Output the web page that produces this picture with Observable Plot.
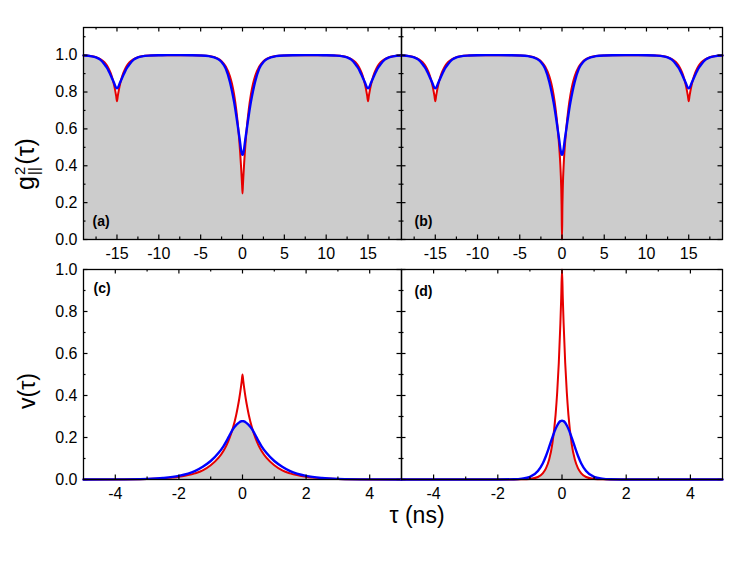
<!DOCTYPE html>
<html><head><meta charset="utf-8">
<script src="https://cdn.jsdelivr.net/npm/d3@7"></script>
<script src="https://cdn.jsdelivr.net/npm/@observablehq/plot@0.6"></script>
<style>
body{margin:0;background:#fff;font-family:"Liberation Sans",Arial,sans-serif;}
#wrap{position:relative;width:747px;height:561px;overflow:hidden;}
.lab{position:absolute;white-space:nowrap;font-size:23px;color:#000;line-height:1;}
.rot{transform:translate(-50%,-50%) rotate(-90deg);}
.flat{transform:translate(-50%,-50%);}
.ss{display:inline-block;vertical-align:middle;font-size:15px;line-height:0.95;text-align:left;margin:0 2px 0 1px;}
.ss span{display:block;}
</style>
</head><body><div id="wrap"></div>
<script>
// ---- top panels: g2(tau), tau in ns ----
const tauTop = [-19,-18,-17.5,-17,-16.5,-16.25,-16,-15.75,-15.5,-15.3,-15.2,-15.1,-15,-14.9,-14.8,-14.7,-14.5,-14.25,-14,-13.75,-13.5,-13,-12.5,-12,-11,-10,-9,-7.5,-6,-5,-4,-3,-2.5,-2,-1.5,-1.25,-1,-0.75,-0.5,-0.3,-0.2,-0.1,-0.05,0,0.05,0.1,0.2,0.3,0.5,0.75,1,1.25,1.5,2,2.5,3,4,5,6,7.5,9,10,11,12,12.5,13,13.5,13.75,14,14.25,14.5,14.7,14.8,14.9,15,15.1,15.2,15.3,15.5,15.75,16,16.25,16.5,17,17.5,18,19];
const gRedA = [0.998,0.994,0.989,0.979,0.962,0.948,0.928,0.902,0.866,0.828,0.805,0.779,0.75,0.779,0.805,0.828,0.866,0.902,0.928,0.948,0.962,0.979,0.989,0.994,0.998,0.9995,0.9999,1.0,0.9996,0.9986,0.995,0.982,0.967,0.938,0.885,0.843,0.785,0.706,0.599,0.485,0.416,0.338,0.295,0.25,
  0.295,0.338,0.416,0.485,0.599,0.706,0.785,0.843,0.885,0.938,0.967,0.982,0.995,0.9986,0.9996,1.0,0.9999,0.9995,0.998,0.994,0.989,0.979,0.962,0.948,0.928,0.902,0.866,0.828,0.805,0.779,0.75,0.779,0.805,0.828,0.866,0.902,0.928,0.948,0.962,0.979,0.989,0.994,0.998];
const gBlueA = [0.998,0.9935,0.9875,0.976,0.951,0.9345,0.915,0.891,0.865,0.844,0.831,0.823,0.82,0.823,0.831,0.844,0.865,0.891,0.915,0.9345,0.951,0.976,0.9875,0.9935,0.998,0.9995,0.9999,1.0,0.9996,0.9985,0.9944,0.9805,0.9625,0.927,0.854,0.8035,0.745,0.674,0.595,0.531,0.494,0.469,0.462,0.46,
  0.462,0.469,0.494,0.531,0.595,0.674,0.745,0.8035,0.854,0.927,0.9625,0.9805,0.9944,0.9985,0.9996,1.0,0.9999,0.9995,0.998,0.9935,0.9875,0.976,0.951,0.9345,0.915,0.891,0.865,0.844,0.831,0.823,0.82,0.823,0.831,0.844,0.865,0.891,0.915,0.9345,0.951,0.976,0.9875,0.9935,0.998];
const gRedB = [0.998,0.994,0.989,0.979,0.962,0.948,0.928,0.902,0.866,0.828,0.805,0.779,0.75,0.779,0.805,0.828,0.866,0.902,0.928,0.948,0.962,0.979,0.989,0.994,0.998,0.9995,0.9999,1.0,0.9996,0.9986,0.995,0.982,0.967,0.938,0.885,0.843,0.785,0.706,0.599,0.483,0.407,0.291,0.187,0.0,
  0.187,0.291,0.407,0.483,0.599,0.706,0.785,0.843,0.885,0.938,0.967,0.982,0.995,0.9986,0.9996,1.0,0.9999,0.9995,0.998,0.994,0.989,0.979,0.962,0.948,0.928,0.902,0.866,0.828,0.805,0.779,0.75,0.779,0.805,0.828,0.866,0.902,0.928,0.948,0.962,0.979,0.989,0.994,0.998];
const gBlueB = [0.998,0.9935,0.9875,0.976,0.951,0.9345,0.915,0.891,0.865,0.844,0.831,0.823,0.82,0.823,0.831,0.844,0.865,0.891,0.915,0.9345,0.951,0.976,0.9875,0.9935,0.998,0.9995,0.9999,1.0,0.9996,0.9985,0.9944,0.9805,0.9625,0.927,0.854,0.8035,0.745,0.674,0.595,0.531,0.494,0.469,0.461,0.459,
  0.461,0.469,0.494,0.531,0.595,0.674,0.745,0.8035,0.854,0.927,0.9625,0.9805,0.9944,0.9985,0.9996,1.0,0.9999,0.9995,0.998,0.9935,0.9875,0.976,0.951,0.9345,0.915,0.891,0.865,0.844,0.831,0.823,0.82,0.823,0.831,0.844,0.865,0.891,0.915,0.9345,0.951,0.976,0.9875,0.9935,0.998];

// ---- bottom panels: v(tau) ----
const tauBot = [-5,-4,-3,-2.5,-2,-1.5,-1.25,-1,-0.75,-0.6,-0.5,-0.4,-0.3,-0.2,-0.15,-0.1,-0.05,-0.025,0,0.025,0.05,0.1,0.15,0.2,0.3,0.4,0.5,0.6,0.75,1,1.25,1.5,2,2.5,3,4,5];
const vRedC = [0.0001,0.0004,0.0024,0.0054,0.0125,0.029,0.0436,0.068,0.104,0.136,0.164,0.200,0.246,0.306,0.344,0.387,0.439,0.468,0.50,
  0.468,0.439,0.387,0.344,0.306,0.246,0.200,0.164,0.136,0.104,0.068,0.0436,0.029,0.0125,0.0054,0.0024,0.0004,0.0001];
const vBlueC = [0.0001,0.0005,0.003,0.007,0.017,0.040,0.061,0.088,0.127,0.158,0.184,0.213,0.240,0.259,0.266,0.272,0.2765,0.2775,0.278,
  0.2775,0.2765,0.272,0.266,0.259,0.240,0.213,0.184,0.158,0.127,0.088,0.061,0.040,0.017,0.007,0.003,0.0005,0.0001];
const vRedD = [0,0,0,0,0,0.0001,0.0006,0.0028,0.012,0.029,0.053,0.095,0.171,0.308,0.414,0.555,0.745,0.863,1.0,
  0.863,0.745,0.555,0.414,0.308,0.171,0.095,0.053,0.029,0.012,0.0028,0.0006,0.0001,0,0,0,0,0];
const vBlueD = [0,0,0,0.0001,0.0003,0.0012,0.004,0.012,0.040,0.076,0.112,0.155,0.200,0.241,0.257,0.270,0.278,0.2795,0.28,
  0.2795,0.278,0.270,0.257,0.241,0.200,0.155,0.112,0.076,0.040,0.012,0.004,0.0012,0.0003,0.0001,0,0,0];

// ---- ticks ----
const xMajorTop = [-15,-10,-5,0,5,10,15];
const xMinorTop = [-17.5,-12.5,-7.5,-2.5,2.5,7.5,12.5,17.5];
const yMajorTop = [0,0.2,0.4,0.6,0.8,1.0];
const yMinorTop = [0.1,0.3,0.5,0.7,0.9,1.1];
const xMajorBot = [-4,-2,0,2,4];
const xMinorBot = [-3,-1,1,3];
const yMajorBot = [0,0.2,0.4,0.6,0.8,1.0];
const yMinorBot = [0.1,0.3,0.5,0.7,0.9];
const panelLabels = ["(a)","(b)","(c)","(d)"];

const RED = "#e60000", BLUE = "#0000ff";

function panel(o) {
  const rows = o.tau.map((t, i) => ({t, r: o.red[i], b: o.blue[i]}));
  const fw = o.width - o.mL - o.mR;
  const fh = o.height - o.mT - o.mB;
  const M = 4.5, m = 2.5;
  const tk = {stroke: "black", strokeWidth: 1.2};
  const marks = [
    Plot.areaY(rows, {x: "t", y: d => Math.min(d.r, d.b), fill: "#cccccc", curve: "monotone-x"}),
    Plot.line(rows, {x: "t", y: "r", stroke: RED, strokeWidth: 2, curve: "monotone-x"}),
    Plot.line(rows, {x: "t", y: "b", stroke: BLUE, strokeWidth: 2.4, curve: "monotone-x"}),
    Plot.frame({stroke: "black", strokeWidth: 1.3}),
    Plot.ruleX(o.xMajor, {...tk, insetTop: fh - M}),
    Plot.ruleX(o.xMajor, {...tk, insetBottom: fh - M}),
    Plot.ruleX(o.xMinor, {...tk, insetTop: fh - m}),
    Plot.ruleX(o.xMinor, {...tk, insetBottom: fh - m}),
    Plot.ruleY(o.yMajor, {...tk, insetRight: fw - M}),
    Plot.ruleY(o.yMajor, {...tk, insetLeft: fw - M}),
    Plot.ruleY(o.yMinor, {...tk, insetRight: fw - m}),
    Plot.ruleY(o.yMinor, {...tk, insetLeft: fw - m}),
    Plot.axisX({ticks: o.xMajor, tickSize: 0, tickPadding: 8, tickFormat: d => String(d), fontSize: 16, label: null}),
    Plot.text([o.label], {frameAnchor: o.anchor, dx: o.ldx, dy: o.ldy, text: d => d, fontWeight: "bold", fontSize: 14, textAnchor: "start", lineAnchor: "middle", fill: "black"})
  ];
  if (o.showY) marks.push(Plot.axisY({ticks: o.yMajor, tickSize: 0, tickPadding: 6, tickFormat: d3.format(".1f"), fontSize: 16, label: null}));
  const svg = Plot.plot({
    width: o.width, height: o.height,
    marginLeft: o.mL, marginRight: o.mR, marginTop: o.mT, marginBottom: o.mB,
    x: {domain: o.xDomain},
    y: {domain: o.yDomain, axis: o.showY ? undefined : null},
    style: {fontFamily: "Liberation Sans, Arial, sans-serif", fontSize: "16px", background: "transparent", overflow: "visible", color: "black"},
    marks
  });
  svg.style.position = "absolute";
  svg.style.left = o.left + "px";
  svg.style.top = o.top + "px";
  return svg;
}

const wrap = document.getElementById("wrap");
const topCommon = {height: 262, mT: 27, mB: 23, xDomain: [-19, 19], yDomain: [0, 1.15], xMajor: xMajorTop, xMinor: xMinorTop, yMajor: yMajorTop, yMinor: yMinorTop, top: 0, anchor: "bottom-left", ldy: -18};
const botCommon = {height: 247, mT: 7, mB: 30, xDomain: [-5, 5], yDomain: [0, 1], xMajor: xMajorBot, xMinor: xMinorBot, yMajor: yMajorBot, yMinor: yMinorBot, top: 262, anchor: "top-left"};

wrap.appendChild(panel({...topCommon, tau: tauTop, red: gRedA, blue: gBlueA, width: 401, mL: 83, mR: 0, left: 0, showY: true, label: panelLabels[0], ldx: 9}));
wrap.appendChild(panel({...topCommon, tau: tauTop, red: gRedB, blue: gBlueB, width: 321, mL: 0, mR: 0, left: 401, showY: false, label: panelLabels[1], ldx: 13}));
wrap.appendChild(panel({...botCommon, tau: tauBot, red: vRedC, blue: vBlueC, width: 401, mL: 83, mR: 0, left: 0, showY: true, label: panelLabels[2], ldx: 10, ldy: 19}));
wrap.appendChild(panel({...botCommon, tau: tauBot, red: vRedD, blue: vBlueD, width: 321, mL: 0, mR: 0, left: 401, showY: false, label: panelLabels[3], ldx: 13, ldy: 22}));

// axis titles
const gl = document.createElement("div");
gl.className = "lab rot";
gl.style.left = "27px"; gl.style.top = "164px";
gl.style.fontSize = "25px";
gl.innerHTML = 'g<span class="ss"><span>2</span><span>||</span></span>(τ)';
wrap.appendChild(gl);
const vl = document.createElement("div");
vl.className = "lab rot";
vl.style.left = "27px"; vl.style.top = "391px";
vl.textContent = "v(τ)";
wrap.appendChild(vl);
const xl = document.createElement("div");
xl.className = "lab flat";
xl.style.left = "417px"; xl.style.top = "515px";
xl.textContent = "τ (ns)";
wrap.appendChild(xl);
</script>
</body></html>
